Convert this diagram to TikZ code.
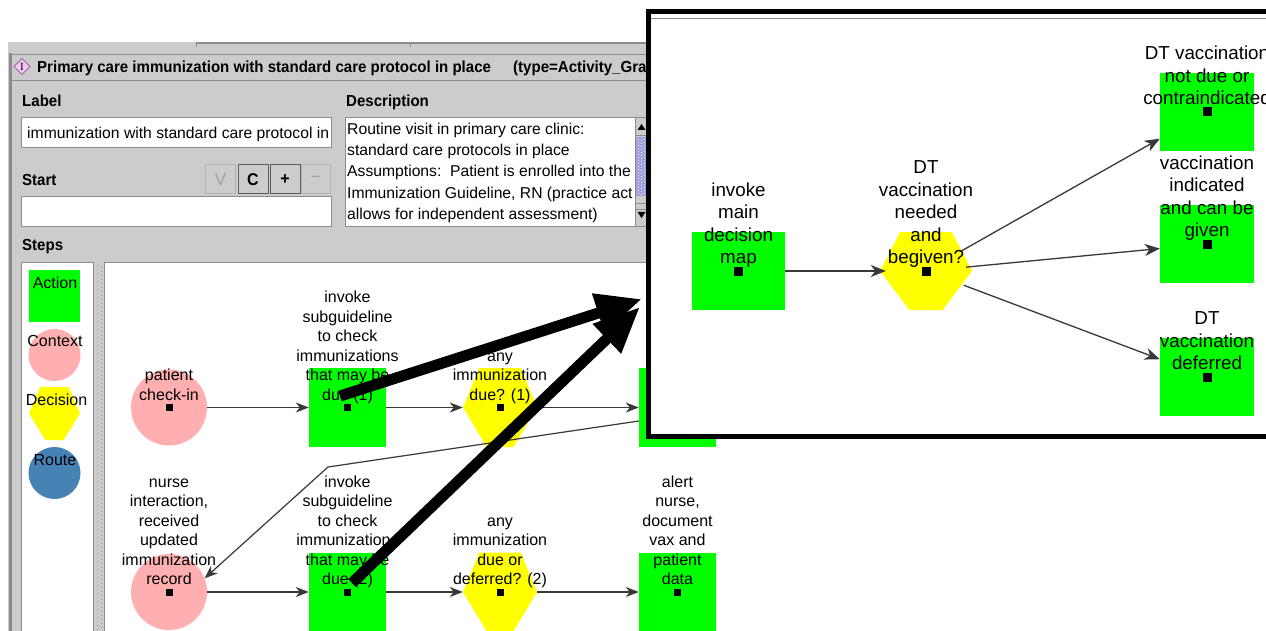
\documentclass[tikz,border=0pt]{standalone}
\usepackage{fontspec}
\setmainfont{Liberation Sans}
\newfontfamily\uinarrow{Liberation Sans}[FakeStretch=0.94]
\newfontfamily\iconserif{Liberation Serif}
\usetikzlibrary{arrows.meta}

\definecolor{panelgray}{HTML}{CCCCCC}
\definecolor{edgegray}{HTML}{8C8C8C}
\definecolor{darkedge}{HTML}{5E5E5E}
\definecolor{disabledtext}{HTML}{A0A0A0}
\definecolor{actiongreen}{HTML}{00FF00}
\definecolor{contextpink}{HTML}{FFAFAF}
\definecolor{decisionyellow}{HTML}{FFFF00}
\definecolor{routeblue}{HTML}{4682B4}
\definecolor{thumbblue}{HTML}{A3A3DC}
\definecolor{linkgray}{HTML}{383838}
\definecolor{iconpink}{HTML}{F6C8F6}
\definecolor{iconedge}{HTML}{9A6A9A}

\newcommand\lblfont{\fontsize{16}{19.5}\selectfont}
\newcommand\zoomlblfont{\fontsize{18.8}{22.5}\selectfont}
\newcommand\uitextfont{\fontsize{15.7}{21.25}\selectfont}

% yellow decision hexagon: centre x, centre y, half width, half height
\newcommand\hexfill[4]{%
  \fill[decisionyellow] ({#1-#3},{#2}) -- ({#1-0.56*#3},{#2-#4})
    -- ({#1+0.56*#3},{#2-#4}) -- ({#1+#3},{#2})
    -- ({#1+0.36*#3},{#2+#4}) -- ({#1-0.36*#3},{#2+#4}) -- cycle;}
% black handle square in the middle of a step: node, half size, size
\newcommand\handle[3]{\fill[black] ([shift={(-#2,-#2)}]#1.center) rectangle ++(#3,#3);}

\tikzset{
  action/.style={rectangle, fill=actiongreen, inner sep=0pt, minimum width=77pt, minimum height=79pt},
  zaction/.style={action, minimum width=94pt, minimum height=78pt},
  context/.style={circle, fill=contextpink, inner sep=0pt, minimum size=76pt},
  decision/.style={circle, inner sep=0pt, minimum size=74pt},
  steplabel/.style={anchor=south, align=center, inner sep=0pt, font=\lblfont, execute at end node=\strut},
  zsteplabel/.style={steplabel, font=\zoomlblfont},
  link/.style={draw=linkgray, line width=1.2pt, -{Stealth[length=13pt, width=10pt, inset=4pt]}},
  zlink/.style={draw=linkgray, line width=1.3pt, -{Stealth[length=15pt, width=12pt, inset=4.5pt]}},
  pointer/.style={draw=black, line width=11pt, -{Triangle[length=46pt, width=38pt]}},
  legendlabel/.style={anchor=base, inner sep=0pt, font=\lblfont},
  caption/.style={anchor=base west, inner sep=0pt, font=\uinarrow\bfseries\fontsize{16}{19}\selectfont},
  uitext/.style={inner sep=0pt, font=\uitextfont},
  field/.style={draw=edgegray, fill=white, line width=1pt},
  button/.style={draw=darkedge, fill=panelgray, line width=1pt, minimum width=30pt, minimum height=29pt, inner sep=0pt, font=\uinarrow\bfseries\fontsize{17}{19}\selectfont},
  offbutton/.style={button, draw=disabledtext!80, text=disabledtext, font=\fontsize{17}{19}\selectfont},
}

\begin{document}
\begin{tikzpicture}[x=1pt, y=-1pt]
\useasboundingbox (0,0) rectangle (1266,631);
\fill[white] (0,0) rectangle (1266,631);

% ---------- editor window ----------
\fill[panelgray] (8,42) rectangle (660,631);
\draw[edgegray, line width=1.2pt] (196,43) -- (660,43);
\draw[edgegray, line width=1pt] (196,42) -- (196,47) (410.5,42) -- (410.5,47);
\draw[edgegray, line width=3pt] (10.5,53) -- (10.5,631);
\draw[edgegray, line width=1pt] (10,54.5) -- (660,54.5);
\draw[edgegray, line width=1pt] (12,80.5) -- (660,80.5);

% title bar
\filldraw[fill=iconpink, draw=iconedge, line width=0.8pt]
  (14,66.5) -- (22,58.5) -- (30,66.5) -- (22,74.5) -- cycle;
\node[inner sep=0pt, font=\iconserif\fontsize{11}{11}\selectfont] (icon) at (22,66.5) {I};
\node[caption] (title) at (37,72.5) {Primary care immunization with standard care protocol in place};
\node[caption] (typetag) at (513,72.5) {(type=Activity\_Gra};

% label, description, start
\node[caption] (labelcap) at (22,106.5) {Label};
\node[caption] (desccap) at (346,106.5) {Description};
\node[caption] (startcap) at (22,185.5) {Start};
\node[caption] (stepscap) at (22,250.5) {Steps};

\draw[field] (21,118) rectangle (331,148);
\node[uitext, anchor=base west] (labeltext) at (27,138.5) {immunization with standard care protocol in};

\draw[field] (345,117.5) rectangle (660,227);
\node[uitext, anchor=north west, align=left] (desctext) at (347,119.2)
  {\strut Routine visit in primary care clinic:\\
   standard care protocols in place\\
   Assumptions:\ \ Patient is enrolled into the\\
   Immunization Guideline, RN (practice act\\
   allows for independent assessment)};

% description scroll bar
\fill[panelgray] (635,118) rectangle (660,226.5);
\draw[edgegray, line width=1pt] (635,118) -- (635,226.5);
\draw[edgegray, line width=1pt] (635,135.5) -- (660,135.5);
\fill[black] (637.5,130) -- (641.5,124) -- (645.5,130) -- cycle;
\fill[thumbblue] (636,137) rectangle (660,196);
\foreach \yy in {139,142,...,194} {
  \fill[white!70!thumbblue] (638,\yy) rectangle ++(1pt,-1pt);
  \fill[white!70!thumbblue] (641,{\yy+1.5}) rectangle ++(1pt,-1pt);
  \fill[white!70!thumbblue] (644,\yy) rectangle ++(1pt,-1pt);
}
\draw[edgegray, line width=1pt] (635,203.5) -- (660,203.5) (635,209.5) -- (660,209.5);
\fill[black] (637.5,212) -- (645.5,212) -- (641.5,218) -- cycle;

% step buttons
\node[offbutton] (btnv) at (220.5,179.5) {V};
\node[button] (btnc) at (253,179.5) {C};
\node[button] (btnplus) at (285,179.5) {+};
\node[offbutton, minimum width=29pt] (btnminus) at (315.5,179.5) {−};
\draw[field] (21,196.5) rectangle (331,227);

% ---------- legend and canvas ----------
\fill[white] (104,262) rectangle (1266,631);
\draw[edgegray, line width=1pt] (104.5,631) -- (104.5,262.5) -- (660,262.5);
\fill[white] (21,262) rectangle (94,631);
\draw[edgegray, line width=1pt] (21.5,631) -- (21.5,262.5) -- (93.5,262.5) -- (93.5,631);
\foreach \yy in {265,269,...,629} {
  \fill[edgegray] (97,\yy) rectangle ++(1.2pt,-1.2pt);
  \fill[edgegray] (100.5,{\yy+2}) rectangle ++(1.2pt,-1.2pt);
}

% legend
\node[action, minimum width=51pt, minimum height=52pt] (legaction) at (54.5,296) {};
\node[context, minimum size=52pt] (legcontext) at (54.5,355) {};
\hexfill{54.5}{413.5}{25.5}{26.5}
\node[decision, minimum size=52pt] (legdecision) at (54.5,413.5) {};
\node[circle, fill=routeblue, inner sep=0pt, minimum size=52pt] (legroute) at (54.5,473) {};
\node[legendlabel] (legactiont) at (55,288) {Action};
\node[legendlabel] (legcontextt) at (55,346.5) {Context};
\node[legendlabel] (legdecisiont) at (56.5,405.5) {Decision};
\node[legendlabel] (legroutet) at (55,465.5) {Route};

% activity graph steps
\node[context] (c1) at (169,407.5) {};
\node[action] (s1) at (347.5,407.5) {};
\hexfill{500}{407.5}{37}{39.5}
\node[decision] (h1) at (500,407.5) {};
\node[action] (s3) at (677.5,407.5) {};
\node[context] (c2) at (169,592) {};
\node[action] (s2) at (347.5,592) {};
\hexfill{500}{592}{37}{39.5}
\node[decision] (h2) at (500,592) {};
\node[action] (s4) at (677.5,592) {};
\coordinate (bend) at (328,467);

\draw[link] (c1) -- (s1);
\draw[link] (s1) -- (h1);
\draw[link] (h1) -- (s3);
\draw[link] ([yshift=-13.5pt]s3.west) -- (bend) -- (c2.21);
\draw[link] (c2) -- (s2);
\draw[link] (s2) -- (h2);
\draw[link] (h2) -- (s4);

\node[steplabel] (c1t) at ([yshift=1pt]c1.center) {patient\\check-in};
\node[steplabel] (s1t) at ([yshift=1pt]s1.center) {invoke\\subguideline\\to check\\immunizations\\that may be\\due (1)};
\node[steplabel] (h1t) at ([yshift=1pt]h1.center) {any\\immunization\\due? (1)};
\node[steplabel] (c2t) at ([yshift=1pt]c2.center) {nurse\\interaction,\\received\\updated\\immunization\\record};
\node[steplabel] (s2t) at ([yshift=1pt]s2.center) {invoke\\subguideline\\to check\\immunizations\\that may be\\due (2)};
\node[steplabel] (h2t) at ([yshift=1pt]h2.center) {any\\immunization\\due or\\deferred? (2)};
\node[steplabel] (s4t) at ([yshift=1pt]s4.center) {alert\\nurse,\\document\\vax and\\patient\\data};

\foreach \n in {c1,s1,h1,c2,s2,h2,s4} {\handle{\n}{3.5pt}{7pt}}

% ---------- enlarged view of the sub-guideline ----------
\fill[white] (646,9) rectangle (1266,439);
\draw[edgegray, line width=1.5pt] (651,18.5) -- (1266,18.5);
\draw[black, line width=5pt] (1266,11.5) -- (648.5,11.5) -- (648.5,436.5) -- (1266,436.5);

\node[zaction, minimum width=93pt] (zmap) at (738.5,271) {};
\hexfill{926}{271}{46}{39}
\node[decision, minimum size=80pt] (zneed) at (926,271) {};
\node[zaction] (znotdue) at (1207,112) {};
\node[zaction] (zgiven) at (1207,244) {};
\node[zaction] (zdefer) at (1207,377) {};

\draw[zlink] (zmap) -- (zneed);
\draw[zlink] (zneed) -- (znotdue);
\draw[zlink] (zneed) -- (zgiven);
\draw[zlink] (zneed) -- (zdefer);

\node[zsteplabel] (zmapt) at ([yshift=0.3pt]zmap.center) {invoke\\main\\decision\\map};
\node[zsteplabel] (zneedt) at ([yshift=0.3pt]zneed.center) {DT\\vaccination\\needed\\and\\begiven?};
\node[zsteplabel] (znotduet) at ([yshift=0.3pt]znotdue.center) {DT vaccination\\not due or\\contraindicated};
\node[zsteplabel] (zgivent) at ([yshift=0.3pt]zgiven.center) {vaccination\\indicated\\and can be\\given};
\node[zsteplabel] (zdefert) at ([yshift=0.3pt]zdefer.center) {DT\\vaccination\\deferred};

\foreach \n in {zmap,zneed,znotdue,zgiven,zdefer} {\handle{\n}{4.5pt}{9pt}}

% ---------- pointers from the sub-guideline steps ----------
\coordinate (p1start) at (340,396);
\coordinate (p1end) at (642,299);
\coordinate (p2start) at (352,583);
\coordinate (p2end) at (640,307);
\draw[pointer] (p1start) -- (p1end);
\draw[pointer] (p2start) -- (p2end);
\end{tikzpicture}
\end{document}
